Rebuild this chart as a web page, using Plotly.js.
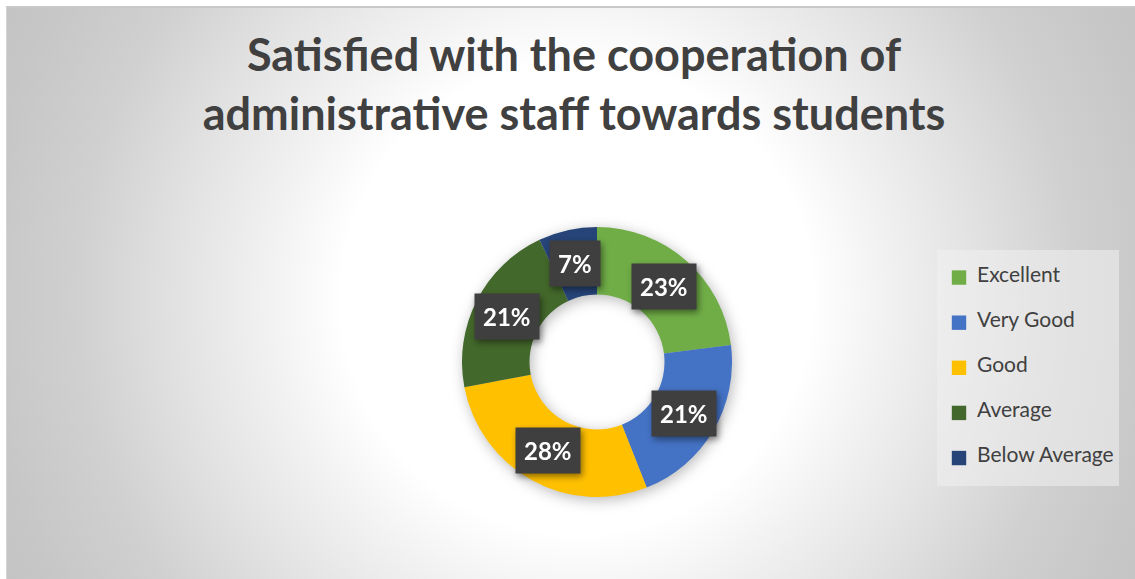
<!DOCTYPE html>
<html>
<head>
<meta charset="utf-8">
<script src="https://cdn.plot.ly/plotly-3.0.1.min.js"></script>
<style>
  html, body { margin: 0; padding: 0; background: #ffffff; }
  #wrap { position: relative; width: 1135px; height: 579px; overflow: hidden; }
  #bg {
    position: absolute; left: 6px; top: 6px; right: 0; bottom: 0;
    border-left: 1px solid #d4d4d4; border-top: 2px solid #c8c8c8;
    background: radial-gradient(circle at 570px 290px, #ffffff 0px, #ffffff 235px, #f3f3f3 300px, #e2e2e2 400px, #d0d0d0 500px, #c6c6c6 600px, #c2c2c2 680px);
  }
  #chart { position: absolute; left: 0; top: 0; width: 1135px; height: 579px; }
  .pielayer .trace { filter: drop-shadow(2px 3px 7px rgba(0,0,0,0.28)); }
  .annotation { filter: drop-shadow(2px 3px 3px rgba(0,0,0,0.45)); }
  .legend .legendpie { transform: translate(22px, 0px) scale(1.2); }
</style>
</head>
<body>
<div id="wrap">
  <div id="bg"></div>
  <div id="chart"></div>
</div>
<script>
// ---- data ----
const categories = ['Excellent', 'Very Good', 'Good', 'Average', 'Below Average'];
const percentages = [23, 21, 28, 21, 7];
const sliceColors = ['#70AD47', '#4472C4', '#FFC000', '#43682B', '#264478'];
const chartTitle = 'Satisfied with the cooperation of<br>administrative staff towards students';

// ---- layout geometry (pixels) ----
const W = 1135, H = 579;
const CX = 597, CY = 362, R = 135, HOLE = 0.5;

const domainX = [(CX - R) / W, (CX + R) / W];
const domainY = [(H - CY - R) / H, (H - CY + R) / H];

// legend labels: padded with thin lines so items get the reference spacing
const legendLabels = categories.map(c => '&nbsp;<br><span style="font-size:21px">' + c + '</span><br>&nbsp;');

// data labels placed at the middle of each ring slice
const total = percentages.reduce((a, b) => a + b, 0);
const rMid = R * (1 + HOLE) / 2;
let cum = 0;
const annotations = percentages.map((v, i) => {
  const theta = 2 * Math.PI * (cum + v / 2) / total;
  cum += v;
  const px = CX + rMid * Math.sin(theta);
  const py = CY - rMid * Math.cos(theta);
  return {
    x: px / W, y: (H - py) / H, xref: 'paper', yref: 'paper',
    xanchor: 'center', yanchor: 'middle', showarrow: false,
    text: '<b>' + v + '%</b>',
    font: { family: 'Lato, sans-serif', size: 24, color: '#ffffff' },
    bgcolor: '#3f3f3f', borderpad: 8
  };
});

const trace = {
  type: 'pie',
  labels: legendLabels,
  values: percentages,
  hole: HOLE,
  sort: false,
  direction: 'clockwise',
  rotation: 0,
  textinfo: 'none',
  marker: { colors: sliceColors, line: { width: 0 } },
  domain: { x: domainX, y: domainY },
  hoverinfo: 'none'
};

const layout = {
  width: W, height: H,
  margin: { l: 0, r: 0, t: 0, b: 0 },
  paper_bgcolor: 'rgba(0,0,0,0)',
  plot_bgcolor: 'rgba(0,0,0,0)',
  title: {
    text: '<b>' + chartTitle + '</b>',
    x: 574 / W, xanchor: 'center',
    y: (H - 71) / H, yanchor: 'top',
    font: { family: 'Lato, sans-serif', size: 45, color: '#404040' }
  },
  showlegend: true,
  legend: {
    x: 937 / W, xanchor: 'left',
    y: (H - 250) / H, yanchor: 'top',
    bgcolor: 'rgba(240,240,240,0.55)',
    font: { family: 'Lato, sans-serif', size: 10.8, color: '#404040' },
    itemclick: false, itemdoubleclick: false
  },
  annotations: annotations
};

Plotly.newPlot('chart', [trace], layout, { staticPlot: true, displayModeBar: false });
</script>
</body>
</html>
